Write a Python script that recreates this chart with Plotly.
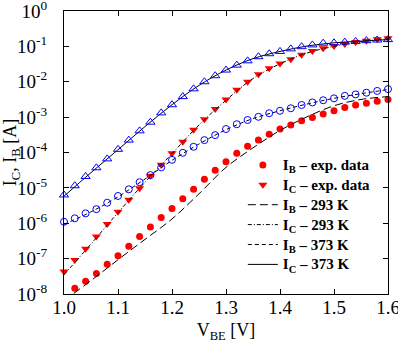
import plotly.graph_objects as go

# ---------------- data ----------------
vbe_exp = [1.00, 1.02, 1.04, 1.06, 1.08, 1.10, 1.12, 1.14, 1.16, 1.18,
           1.20, 1.22, 1.24, 1.26, 1.28, 1.30, 1.32, 1.34, 1.36, 1.38,
           1.40, 1.42, 1.44, 1.46, 1.48, 1.50, 1.52, 1.54, 1.56, 1.58, 1.60]

ic_373_exp = [6.3e-6, 1.15e-5, 2.1e-5, 3.7e-5, 6.6e-5, 1.23e-4, 2.24e-4, 4.1e-4, 7.2e-4, 1.32e-3,
              2.24e-3, 3.8e-3, 6.3e-3, 1.0e-2, 1.48e-2, 2.14e-2, 2.95e-2, 3.9e-2, 5.1e-2, 6.2e-2,
              7.2e-2, 8.5e-2, 9.8e-2, 0.110, 0.123, 0.126, 0.132, 0.138, 0.145, 0.151, 0.155]

ic_293_exp = [4.3e-8, 9.1e-8, 1.9e-7, 4.2e-7, 9.5e-7, 2.1e-6, 4.6e-6, 9.8e-6, 2.2e-5, 4.5e-5,
              9.5e-5, 2.0e-4, 4.4e-4, 8.7e-4, 1.7e-3, 3.16e-3, 5.9e-3, 1.0e-2, 1.62e-2, 2.4e-2,
              3.3e-2, 4.3e-2, 5.8e-2, 7.4e-2, 8.9e-2, 0.102, 0.117, 0.132, 0.145, 0.158, 0.170]

ib_373_exp = [1.1e-6, 1.38e-6, 1.9e-6, 2.5e-6, 3.8e-6, 5.9e-6, 9.1e-6, 1.45e-5, 2.3e-5, 3.8e-5,
              6.2e-5, 9.8e-5, 1.45e-4, 2.24e-4, 3.1e-4, 4.6e-4, 6.3e-4, 8.3e-4, 1.02e-3, 1.29e-3,
              1.51e-3, 1.78e-3, 2.2e-3, 2.6e-3, 3.0e-3, 3.4e-3, 4.0e-3, 4.4e-3, 4.9e-3, 5.5e-3, 6.2e-3]

vbe_ib293_exp = [1.02, 1.04, 1.06, 1.08, 1.10, 1.12, 1.14, 1.16, 1.18, 1.20,
                 1.22, 1.24, 1.26, 1.28, 1.30, 1.32, 1.34, 1.36, 1.38, 1.40,
                 1.42, 1.44, 1.46, 1.48, 1.50, 1.52, 1.54, 1.56, 1.58, 1.60]
ib_293_exp = [1.45e-8, 2.3e-8, 3.8e-8, 6.9e-8, 1.2e-7, 2.24e-7, 4.2e-7, 7.8e-7, 1.45e-6, 2.6e-6,
              4.9e-6, 9.1e-6, 1.74e-5, 3.16e-5, 5.5e-5, 9.5e-5, 1.51e-4, 2.24e-4, 3.3e-4, 4.6e-4,
              6.0e-4, 7.9e-4, 9.8e-4, 1.23e-3, 1.51e-3, 1.86e-3, 2.2e-3, 2.45e-3, 2.8e-3, 3.16e-3]

vbe_model = [1.00, 1.05, 1.10, 1.15, 1.20, 1.25, 1.30, 1.35, 1.40, 1.45, 1.50, 1.55, 1.60]
ic_373_model = [5.8e-6, 2.7e-5, 1.2e-4, 5.4e-4, 2.24e-3, 7.9e-3, 2.14e-2, 4.5e-2, 7.2e-2, 0.102, 0.126, 0.141, 0.155]
ic_293_model = [3.5e-8, 2.6e-7, 2.0e-6, 1.45e-5, 9.3e-5, 6.0e-4, 3.0e-3, 1.23e-2, 3.2e-2, 6.5e-2, 0.100, 0.135, 0.166]
ib_373_model = [9.3e-7, 2.1e-6, 5.6e-6, 1.78e-5, 6.0e-5, 1.74e-4, 4.4e-4, 9.1e-4, 1.51e-3, 2.34e-3, 3.4e-3, 4.6e-3, 6.0e-3]
ib_293_model = [6.5e-9, 2.4e-8, 9.3e-8, 3.5e-7, 1.32e-6, 6.8e-6, 3.8e-5, 1.35e-4, 4.2e-4, 1.02e-3, 2.1e-3, 3.16e-3, 3.8e-3]

x_tickvals = [1.0, 1.1, 1.2, 1.3, 1.4, 1.5, 1.6]
x_ticktext = ["1.0", "1.1", "1.2", "1.3", "1.4", "1.5", "1.6"]
y_tickvals = [1e-8, 1e-7, 1e-6, 1e-5, 1e-4, 1e-3, 1e-2, 1e-1, 1e0]
y_ticktext = ["10<sup>-8</sup>", "10<sup>-7</sup>", "10<sup>-6</sup>", "10<sup>-5</sup>",
              "10<sup>-4</sup>", "10<sup>-3</sup>", "10<sup>-2</sup>", "10<sup>-1</sup>", "10<sup>0</sup>"]

legend_labels = ["I<sub>B</sub> – exp. data", "I<sub>C</sub> – exp. data",
                 "I<sub>B</sub> – 293 K", "I<sub>C</sub> – 293 K",
                 "I<sub>B</sub> – 373 K", "I<sub>C</sub> – 373 K"]
names = ['<span style="font-size:15px"><b>' + s + '</b></span>' for s in legend_labels]

RED = "#ff0000"
BLUE = "#0000ff"
FONT = "Liberation Serif"

fig = go.Figure()

# legend entries (order as in reference)
fig.add_trace(go.Scatter(x=vbe_ib293_exp, y=ib_293_exp, mode="markers", name=names[0],
                         marker=dict(symbol="circle", size=7, color=RED), cliponaxis=False))
fig.add_trace(go.Scatter(x=vbe_exp, y=ic_293_exp, mode="markers", name=names[1],
                         marker=dict(symbol="triangle-down", size=8, color=RED), cliponaxis=False))
fig.add_trace(go.Scatter(x=vbe_model, y=ib_293_model, mode="lines", name=names[2], line_shape="spline",
                         line=dict(color="black", width=1, dash="8px,4px")))
fig.add_trace(go.Scatter(x=vbe_model, y=ic_293_model, mode="lines", name=names[3], line_shape="spline",
                         line=dict(color="black", width=1, dash="4px,2px,1px,2px")))
fig.add_trace(go.Scatter(x=vbe_model, y=ib_373_model, mode="lines", name=names[4], line_shape="spline",
                         line=dict(color="black", width=1, dash="4px,3px")))
fig.add_trace(go.Scatter(x=vbe_model, y=ic_373_model, mode="lines", name=names[5], line_shape="spline",
                         line=dict(color="black", width=1)))

# blue 373 K experimental data (not in legend)
fig.add_trace(go.Scatter(x=vbe_exp, y=ib_373_exp, mode="markers", showlegend=False,
                         marker=dict(symbol="circle-open", size=7, color=BLUE, line=dict(width=1)),
                         cliponaxis=False))
fig.add_trace(go.Scatter(x=vbe_exp, y=ic_373_exp, mode="markers", showlegend=False,
                         marker=dict(symbol="triangle-up-open", size=8, color=BLUE, line=dict(width=1)),
                         cliponaxis=False))

axis_common = dict(showline=True, linecolor="black", linewidth=1, mirror="ticks",
                   ticks="inside", ticklen=5, tickwidth=1, tickcolor="black",
                   showgrid=False, zeroline=False, automargin=False,
                   ticklabeloverflow="allow",
                   tickfont=dict(family=FONT, size=19, color="black"))

fig.update_xaxes(range=[1.0, 1.6], tickvals=x_tickvals, ticktext=x_ticktext,
                 ticklabelstandoff=-4,
                 title=dict(text="V<sub>BE</sub> [V]", font=dict(family=FONT, size=18, color="black"),
                            standoff=12),
                 **axis_common)
fig.update_yaxes(type="log", range=[-8, 0], tickvals=y_tickvals, ticktext=y_ticktext,
                 title=dict(text="I<sub>C</sub>, I<sub>B</sub> [A]", font=dict(family=FONT, size=18, color="black"),
                            standoff=3),
                 ticklabelstandoff=12,
                 **axis_common)

fig.update_layout(
    width=398, height=343,
    margin=dict(l=64, r=10, t=11, b=49),
    paper_bgcolor="white", plot_bgcolor="white",
    font=dict(family=FONT, color="black"),
    legend=dict(x=0.552, y=0.509, xanchor="left", yanchor="top",
                bgcolor="rgba(0,0,0,0)", borderwidth=0,
                font=dict(family=FONT, size=13, color="black"),
                tracegroupgap=0),
)

fig.write_html("out.html")
